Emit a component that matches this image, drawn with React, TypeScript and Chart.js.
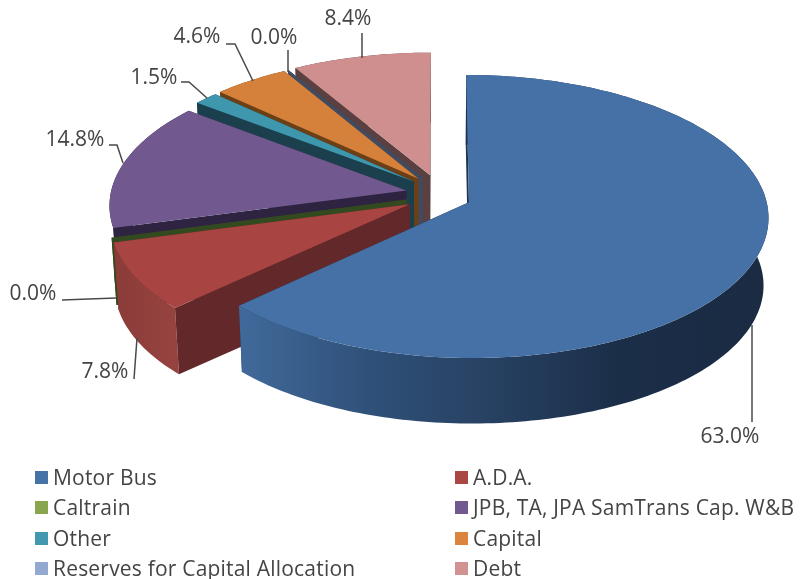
import React, { useEffect, useRef } from "react";
import { Chart, registerables } from "chart.js";

Chart.register(...registerables);

const categories = ["Motor Bus", "A.D.A.", "Caltrain", "JPB, TA, JPA SamTrans Cap. W&B", "Other", "Capital", "Reserves for Capital Allocation", "Debt"];
const shares = [63.0, 7.8, 0.0, 14.8, 1.5, 4.6, 0.0, 8.4];
const faceColors = ["#4571A7", "#A84543", "#89A54E", "#71588F", "#3F97AE", "#D5803B", "#93A9CF", "#CF8F8E"];
const legendColors = ["#4572A7", "#AA4643", "#89A54E", "#71588F", "#4198AF", "#DB843D", "#93A9CF", "#D19392"];
const wallColors = ["#1D3350", "#62282A", "#33491F", "#2E2340", "#1B3F4C", "#6B4016", "#3F4B62", "#5A4040"];
const rimColors = ["", "#8F3F3B", "#33491F", "#2E2340", "#1B3F4C", "#6B4016", "#3F4B62", "#5A4040"];

const FONT = '21px "Open Sans"';
const TEXT = "#444444";

// projection settings of the tilted pie
const CX = 438.6, CY = 194.3, RX = 296, RY = 138.5, PERSP = 0.1, DEPTH = 68, SHRINK = 0.985;
const EXPLODE = 0.111, EXPLODE_Y = 1.3;

// label anchor and leader polyline per slice
const labelLayout: { x: number; y: number; line: number[][] }[] = [
  { x: 730, y: 436, line: [[752, 325], [752, 422]] },
  { x: 105, y: 371, line: [[134, 379], [137, 338]] },
  { x: 33, y: 293, line: [[62, 300], [116, 298]] },
  { x: 75, y: 139, line: [[109, 145], [117, 145], [123, 163]] },
  { x: 154, y: 77, line: [[181, 82], [189, 82], [207, 98]] },
  { x: 197, y: 36, line: [[226, 44], [235, 44], [253, 81]] },
  { x: 274, y: 37, line: [[288, 50], [288, 72]] },
  { x: 348, y: 18, line: [[362, 33], [362, 58]] },
];
const legendRows = [477, 507, 538, 568];
const legendCols = [35, 455];
const drawOrder = [7, 6, 5, 4, 3, 2, 1, 0];

function project(X: number, Y: number, low: boolean): [number, number] {
  const w = 1 - PERSP * Y;
  let x = (RX * X) / w;
  let y = (RY * Y) / w;
  if (low) {
    x *= SHRINK;
    y = y * SHRINK + DEPTH;
  }
  return [CX + x, CY + y];
}

const pie3d = {
  id: "pie3d",
  beforeDatasetsDraw(chart: any) {
    const ctx: CanvasRenderingContext2D = chart.ctx;
    const arcs = chart.getDatasetMeta(0).data;
    const geom = (i: number) => {
      const a = arcs[i].startAngle + Math.PI / 2;
      const b = arcs[i].endAngle + Math.PI / 2;
      const m = (a + b) / 2;
      const ox = EXPLODE * Math.sin(m);
      const oy = -EXPLODE * EXPLODE_Y * Math.cos(m);
      const pt = (t: number, r: number, low: boolean) =>
        project(ox + r * Math.sin(t), oy - r * Math.cos(t), low);
      return { a, b, pt };
    };
    const poly = (pts: [number, number][], fill: any) => {
      ctx.beginPath();
      pts.forEach((p, k) => (k ? ctx.lineTo(p[0], p[1]) : ctx.moveTo(p[0], p[1])));
      ctx.closePath();
      ctx.fillStyle = fill;
      ctx.fill();
    };
    const busGradient = ctx.createLinearGradient(241, 0, 768, 0);
    busGradient.addColorStop(0, "#40699A");
    busGradient.addColorStop(0.25, "#2F5078");
    busGradient.addColorStop(0.5, "#263F5F");
    busGradient.addColorStop(0.72, "#1B2E48");
    busGradient.addColorStop(1, "#1A2B42");
    const rimGradient = ctx.createLinearGradient(112, 0, 176, 0);
    rimGradient.addColorStop(0, "#8A3C38");
    rimGradient.addColorStop(1, "#964340");

    drawOrder.forEach((i) => {
      const { a, b, pt } = geom(i);
      const wall = wallColors[i];
      const wallFor = (t: number) => [pt(t, 0, false), pt(t, 1, false), pt(t, 1, true), pt(t, 0, true)] as [number, number][];
      poly(wallFor(b), wall);
      const steps = Math.max(1, Math.ceil((b - a) / 0.02));
      const top: [number, number][] = [];
      const low: [number, number][] = [];
      for (let k = 0; k <= steps; k++) {
        const t = a + ((b - a) * k) / steps;
        top.push(pt(t, 1, false));
        low.push(pt(t, 1, true));
      }
      const rimFill = i === 0 ? busGradient : i === 1 ? rimGradient : rimColors[i];
      if (b > a) poly([...top, ...low.reverse()], rimFill);
      poly(wallFor(a), wall);
      if (b > a) poly([pt(a, 0, false), ...top], faceColors[i]);
    });

    // leader lines and percentage labels
    ctx.font = FONT;
    ctx.textAlign = "center";
    ctx.textBaseline = "middle";
    shares.forEach((v, i) => {
      const l = labelLayout[i];
      ctx.beginPath();
      l.line.forEach((p, k) => (k ? ctx.lineTo(p[0], p[1]) : ctx.moveTo(p[0], p[1])));
      ctx.strokeStyle = "#4a4a4a";
      ctx.lineWidth = 1.5;
      ctx.stroke();
      ctx.fillStyle = TEXT;
      ctx.fillText(v.toFixed(1) + "%", l.x, l.y + 1);
    });

    // two-column legend
    ctx.textAlign = "left";
    (ctx as any).letterSpacing = "0.2px";
    categories.forEach((name, i) => {
      const col = legendCols[i % 2];
      const row = legendRows[Math.floor(i / 2)];
      ctx.fillStyle = legendColors[i];
      ctx.fillRect(col, row - 6, 13, 13);
      ctx.fillStyle = TEXT;
      ctx.fillText(name, col + 18, row + 2);
    });
    (ctx as any).letterSpacing = "0px";
    return false;
  },
};

export default function App() {
  const ref = useRef<HTMLCanvasElement>(null);
  useEffect(() => {
    document.body.style.margin = "0";
    const chart = new Chart(ref.current as HTMLCanvasElement, {
      type: "pie",
      data: {
        labels: categories,
        datasets: [{ data: shares, backgroundColor: faceColors }],
      },
      options: {
        animation: false,
        responsive: false,
        plugins: { legend: { display: false }, tooltip: { enabled: false } },
      },
      plugins: [pie3d],
    } as any);
    return () => chart.destroy();
  }, []);
  return (
    <div style={{ width: 802, height: 579, overflow: "hidden", background: "#fff" }}>
      <canvas ref={ref} width={802} height={579} style={{ display: "block" }} />
    </div>
  );
}
